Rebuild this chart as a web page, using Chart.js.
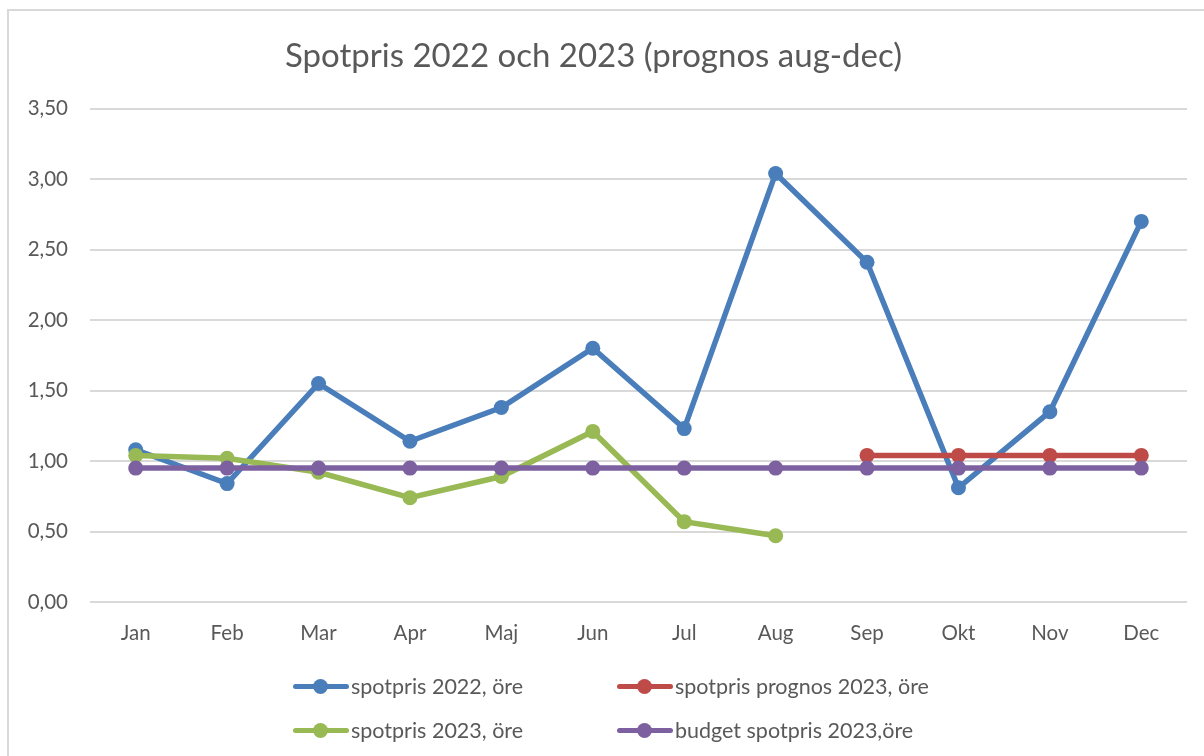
<!DOCTYPE html>
<html lang="sv">
<head>
  <meta charset="UTF-8">
  <title>Spotpris 2022 och 2023</title>
  <script src="https://cdn.jsdelivr.net/npm/chart.js"></script>
  <style>
    html, body { margin: 0; padding: 0; background: #fff; }
    .wrap {
      position: relative;
      width: 1204px;
      height: 756px;
      overflow: hidden;
    }
    .frame {
      position: absolute;
      left: 7px; top: 9px; right: -5px; bottom: -5px;
      border: 2px solid #d9d9d9;
      pointer-events: none;
    }
    canvas { position: absolute; left: 0; top: 0; }
    .legend {
      position: absolute;
      font-family: 'Lato', sans-serif;
      font-size: 21.5px;
      color: #595959;
    }
    .item {
      position: absolute;
      display: flex;
      align-items: center;
      white-space: nowrap;
    }
    .icon {
      position: relative;
      width: 56px;
      height: 15px;
      margin-right: 2px;
    }
    .icon .ln {
      position: absolute;
      left: 0; right: 0; top: 5px; height: 5.5px;
      border-radius: 3px;
    }
    .icon .dot {
      position: absolute;
      left: 20px; top: 0; width: 15px; height: 15px;
      border-radius: 50%;
    }
  </style>
</head>
<body>
  <div class="wrap">
    <canvas id="chart" width="1204" height="756"></canvas>
    <div class="frame"></div>
    <div class="legend" id="legend"></div>
  </div>

  <script>
    const months = ['Jan', 'Feb', 'Mar', 'Apr', 'Maj', 'Jun', 'Jul', 'Aug', 'Sep', 'Okt', 'Nov', 'Dec'];
    const spot2022 = [1.08, 0.84, 1.55, 1.14, 1.38, 1.80, 1.23, 3.04, 2.41, 0.81, 1.35, 2.70];
    const prognos2023 = [null, null, null, null, null, null, null, null, 1.04, 1.04, 1.04, 1.04];
    const spot2023 = [1.04, 1.02, 0.92, 0.74, 0.89, 1.21, 0.57, 0.47, null, null, null, null];
    const budget2023 = [0.95, 0.95, 0.95, 0.95, 0.95, 0.95, 0.95, 0.95, 0.95, 0.95, 0.95, 0.95];
    const yTicks = [0, 0.5, 1, 1.5, 2, 2.5, 3, 3.5];

    const names = ['spotpris 2022, öre', 'spotpris prognos 2023, öre', 'spotpris 2023, öre', 'budget spotpris 2023,öre'];
    const colors = ['#4a7ebb', '#be4b48', '#98b954', '#7d60a0'];
    const series = [spot2022, prognos2023, spot2023, budget2023];

    const font = "'Lato', sans-serif";
    const grey = '#595959';

    const datasets = series.map((data, i) => ({
      label: names[i],
      data: data,
      borderColor: colors[i],
      backgroundColor: colors[i],
      borderWidth: 5.5,
      pointRadius: 7.5,
      pointHoverRadius: 7.5,
      pointBorderWidth: 0,
      tension: 0,
      spanGaps: false,
      order: 4 - i
    }));

    new Chart(document.getElementById('chart'), {
      type: 'line',
      data: { labels: months, datasets: datasets },
      options: {
        responsive: false,
        animation: false,
        layout: { padding: { left: 0, right: 17, top: 0, bottom: 100 } },
        plugins: {
          legend: { display: false },
          tooltip: { enabled: false },
          title: {
            display: true,
            text: 'Spotpris 2022 och 2023 (prognos aug-dec)',
            color: grey,
            font: { family: font, size: 33, weight: 'normal' },
            padding: { top: 37, bottom: 32 }
          }
        },
        scales: {
          x: {
            offset: true,
            grid: { display: false, drawTicks: false },
            border: { display: false },
            ticks: { color: grey, font: { family: font, size: 20.5 }, padding: 19 },
            afterFit: s => { s.height = 54; }
          },
          y: {
            min: 0,
            max: 3.5,
            grid: { color: '#d9d9d9', lineWidth: 2, drawTicks: false },
            border: { display: false },
            afterBuildTicks: s => { s.ticks = yTicks.map(v => ({ value: v })); },
            ticks: {
              color: grey,
              font: { family: font, size: 20.5 },
              padding: 22,
              callback: v => v.toFixed(2).replace('.', ',')
            },
            afterFit: s => { s.width = 90; }
          }
        }
      }
    });

    // legend laid out in two columns like the original
    const legendPos = [[293, 687], [617, 687], [293, 731], [617, 731]];
    const legend = document.getElementById('legend');
    names.forEach((name, i) => {
      const item = document.createElement('div');
      item.className = 'item';
      item.style.left = legendPos[i][0] + 'px';
      item.style.top = (legendPos[i][1] - 14) + 'px';
      item.innerHTML = '<span class="icon"><span class="ln" style="background:' + colors[i] +
        '"></span><span class="dot" style="background:' + colors[i] + '"></span></span>' + name;
      legend.appendChild(item);
    });
  </script>
</body>
</html>
